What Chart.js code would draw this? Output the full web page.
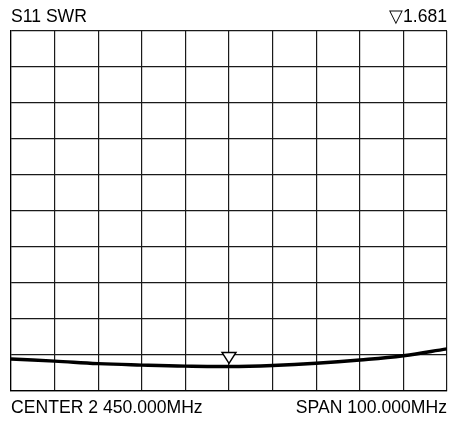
<!DOCTYPE html>
<html>
<head>
<meta charset="utf-8">
<script src="https://cdn.jsdelivr.net/npm/chart.js@4"></script>
<style>
  body { margin: 0; background: #fff; }
  #wrap { position: relative; width: 452px; height: 422px; }
  .lbl { position: absolute; font-family: "Liberation Sans", Arial, sans-serif; font-size: 17.6px; color: #000; line-height: 1; white-space: nowrap; }
</style>
</head>
<body>
<div id="wrap">
  <canvas id="c" width="452" height="422"></canvas>
  <div class="lbl" id="title" style="left:11px; top:8px;">S11 SWR</div>
  <div class="lbl" id="mk" style="right:5px; top:8px;">▽1.681</div>
  <div class="lbl" id="center" style="left:11px; top:399px;">CENTER 2 450.000MHz</div>
  <div class="lbl" id="span" style="right:5px; top:399px;">SPAN 100.000MHz</div>
</div>
<script>
// frequency (MHz) and SWR
var freqs = [400, 410, 420, 430, 440, 450, 460, 470, 480, 490, 500];
var swr = [1.89, 1.83, 1.76, 1.72, 1.69, 1.68, 1.71, 1.77, 1.86, 1.98, 2.17];
var markerFreq = 450;
var markerSwr = 1.681;

var pts = freqs.map(function(f, i) { return {x: f, y: swr[i]}; });

// marker triangle sitting on the trace
var markerPlugin = {
  id: 'marker',
  afterDatasetsDraw: function(chart) {
    var c = chart.ctx;
    var px = chart.scales.x.getPixelForValue(markerFreq);
    var py = chart.scales.y.getPixelForValue(markerSwr) - 3;
    c.save();
    c.beginPath();
    c.moveTo(px, py);
    c.lineTo(px - 7, py - 11);
    c.lineTo(px + 7, py - 11);
    c.closePath();
    c.fillStyle = '#fff';
    c.fill();
    c.lineWidth = 1.4;
    c.strokeStyle = '#000';
    c.stroke();
    c.restore();
  }
};

new Chart(document.getElementById('c'), {
  type: 'line',
  data: {
    datasets: [{
      data: pts,
      borderColor: '#000',
      borderWidth: 3.4,
      pointRadius: 0,
      tension: 0.4,
      fill: false
    }]
  },
  options: {
    responsive: false,
    animation: false,
    layout: { padding: { left: 11, right: 5, top: 31, bottom: 31 } },
    plugins: { legend: { display: false }, tooltip: { enabled: false } },
    scales: {
      x: {
        type: 'linear', min: 400, max: 500,
        ticks: { display: false, stepSize: 10 },
        grid: { drawTicks: false, color: '#1a1a1a', lineWidth: 1.2 },
        border: { color: '#000', width: 1.2 }
      },
      y: {
        type: 'linear', min: 1, max: 11,
        ticks: { display: false, stepSize: 1 },
        grid: { drawTicks: false, color: '#1a1a1a', lineWidth: 1.2 },
        border: { color: '#000', width: 1.2 }
      }
    }
  },
  plugins: [markerPlugin]
});
</script>
</body>
</html>
